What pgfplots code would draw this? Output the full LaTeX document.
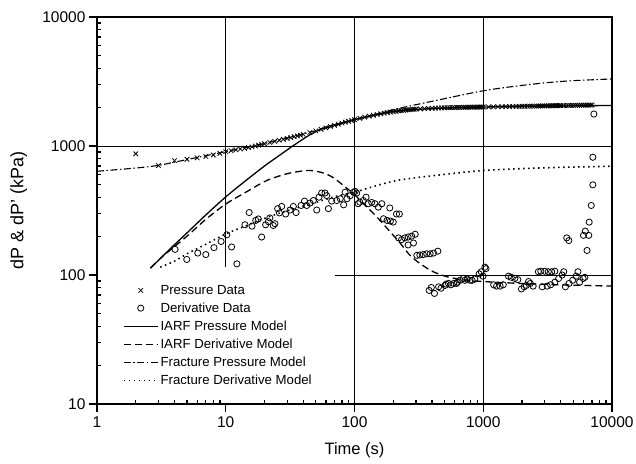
\documentclass[border=0pt]{standalone}
\usepackage{fontspec}
\setmainfont{Liberation Sans}
\usepackage{pgfplots}
\pgfplotsset{compat=1.18}

\begin{document}
\begin{tikzpicture}
\begin{axis}[
  scale only axis, width=515bp, height=387bp,
  xmode=log, ymode=log, xmin=1, xmax=10000, ymin=10, ymax=10000,
  clip=false,
  axis line style={line width=1.2bp},
  xtick={1,10,100,1000,10000}, xticklabels={1,10,100,1000,10000},
  ytick={10,100,1000,10000}, yticklabels={10,100,1000,10000},
  minor xtick={2,3,4,5,6,7,8,9,20,30,40,50,60,70,80,90,200,300,400,500,600,700,800,900,2000,3000,4000,5000,6000,7000,8000,9000},
  minor ytick={20,30,40,50,60,70,80,90,200,300,400,500,600,700,800,900,2000,3000,4000,5000,6000,7000,8000,9000},
  tick pos=left,
  tick align=inside, major tick length=0bp, minor tick length=4.5bp,
  every tick/.style={black, line width=1.3bp},
  xticklabel style={yshift=-9bp, font=\fontsize{15.5bp}{18bp}\selectfont},
  yticklabel style={xshift=-8bp, font=\fontsize{15.5bp}{18bp}\selectfont},
  xlabel={Time (s)}, ylabel={dP \& dP' (kPa)},
  every axis x label/.style={at={(axis description cs:0.5,-0.119)}, anchor=center, font=\fontsize{16.5bp}{19bp}\selectfont},
  every axis y label/.style={at={(axis description cs:-0.152,0.5)}, rotate=90, anchor=center, font=\fontsize{18bp}{21bp}\selectfont},
  legend image code/.code={\draw[mark repeat=2,mark phase=2,#1] plot coordinates {(0bp,0bp) (17bp,0bp) (34bp,0bp)};},
  legend style={at={(rel axis cs:0.05,0.313)}, anchor=north west, draw=none, fill=none,
    inner sep=0pt, row sep=3bp, font=\fontsize{13.2bp}{15bp}\selectfont,
    cells={anchor=west}},
  legend cell align=left,
  unbounded coords=jump,
]
% major ticks, outside the frame (bottom and left)
\addplot[forget plot, black, line width=1.3bp] coordinates {
(1,10) (1,8.673) (nan,nan) (10,10) (10,8.673) (nan,nan) (100,10) (100,8.673) (nan,nan)
(1000,10) (1000,8.673) (nan,nan) (10000,10) (10000,8.673)};
\addplot[forget plot, black, line width=1.3bp] coordinates {
(1,10) (0.8666,10) (nan,nan) (1,100) (0.8666,100) (nan,nan) (1,1000) (0.8666,1000) (nan,nan)
(1,10000) (0.8666,10000)};

% partial grid lines
\addplot[forget plot, black, line width=0.9bp] coordinates {(1,1000) (10000,1000)};
\addplot[forget plot, black, line width=0.9bp] coordinates {(70,100) (10000,100)};
\addplot[forget plot, black, line width=0.9bp] coordinates {(10,115) (10,10000)};
\addplot[forget plot, black, line width=0.9bp] coordinates {(100,10) (100,10000)};
\addplot[forget plot, black, line width=0.9bp] coordinates {(1000,10) (1000,10000)};

% Pressure data
\addplot[only marks, mark=x, mark size=3.2bp, mark options={line width=0.8bp}, black] coordinates {
(2,870) (3,705) (4,770) (5,790) (6,810) (7,830) (8,852) (9,877) (10,905)
(11,920) (12,935) (13,948) (14,960) (15,972) (16,985) (17,1000) (18,1015) (19,1028)
(20,1042) (22,1065) (24,1088) (26,1108) (28,1127) (30,1146) (32,1163) (34,1180)
(36,1197) (38,1213) (40,1230) (45,1272) (50,1310) (55,1348) (60,1382) (65,1415)
(70,1445) (75,1475) (80,1505) (85,1530) (90,1553) (95,1576)
(100,1598) (110,1638) (120,1672) (130,1703) (140,1730) (150,1755) (160,1777)
(170,1797) (180,1815) (190,1832) (200,1848) (210,1860) (220,1872) (230,1882)
(240,1892) (250,1900) (260,1908) (270,1915) (280,1921) (290,1927) (300,1932)
(325,1940) (350,1948) (375,1955) (400,1962) (425,1966) (450,1971) (475,1975)
(500,1978) (525,1981) (550,1983) (575,1986) (600,1988) (625,1990) (650,1992)
(675,1994) (700,1995) (725,1996) (750,1997) (775,1999) (800,2000) (825,2001)
(850,2002) (875,2002) (900,2003) (925,2004) (950,2004) (975,2005)
(1000,2005) (1100,2009) (1200,2012) (1300,2015) (1400,2018) (1500,2020)
(1600,2023) (1700,2025) (1800,2027) (1900,2029) (2000,2031) (2100,2033)
(2200,2035) (2300,2036) (2400,2038) (2500,2039) (2600,2041) (2700,2042)
(2800,2044) (2900,2045) (3000,2046) (3100,2047) (3200,2049) (3300,2050)
(3400,2051) (3500,2052) (3600,2053) (3700,2054) (3800,2055) (3900,2056)
(4000,2057) (4200,2059) (4400,2061) (4600,2062) (4800,2064) (5000,2065)
(5200,2067) (5400,2068) (5600,2070) (5800,2071) (6000,2072) (6200,2073)
(6400,2075) (6600,2076) (6800,2077) (7000,2078)
};
\addlegendentry{Pressure Data}

% Derivative data
\addplot[only marks, mark=o, mark size=3.1bp, mark options={line width=0.8bp}, black] coordinates {
(4.04,158) (4.98,132) (6.06,148) (7.0,144) (8.1,163) (9.2,182) (10.2,205)
(11.1,165) (12.2,122) (14.1,245) (15.2,305) (16,239) (17.1,265) (17.9,272)
(19.0,197) (20.4,245) (21.4,259) (22.0,277) (23.4,242) (24.1,250) (25.3,327)
(26.1,303) (27.2,340) (29.2,297) (31.6,319) (33.5,340) (35.2,305) (38.5,346)
(40.9,374) (42.6,346) (45.1,361) (47.9,378) (50.9,319) (53,401) (55.6,432)
(59,432) (60.8,412) (62.7,327) (66.5,374) (72.8,378) (77.5,390) (82.4,350)
(84.5,438) (87.4,390) (92.6,412) (98.3,438) (101,445) (104,432) (106.7,357)
(110,367) (117,378) (123,401) (128,357) (136,365) (144,357) (153,336) (163,357)
(168,273) (179,265) (190,262) (200,257) (188,331) (212,297) (223,297)
(220,194) (232,188) (246,194) (261,197) (278,200) (296,207) (261,171) (287,177)
(305,142) (322,143) (342,144) (364,146) (387,146) (411,148) (444,153)
(380,76) (395,80) (418,72) (450,81) (470,79) (505,83) (515,85) (537,86)
(560,84) (590,86) (620,86) (630,88) (660,91) (700,94) (720,91) (750,93)
(790,91) (820,91) (860,93) (930,102) (965,106) (995,98) (1030,115) (1050,112)
(1205,84) (1270,82) (1350,82) (1430,84) (1570,98) (1650,96) (1760,94) (1855,92)
(1980,78) (2080,81) (2160,83) (2250,89) (2320,86) (2440,82)
(2680,106) (2800,107) (3000,107) (3200,106) (3400,106) (3600,107)
(2870,81) (3140,82) (3340,84) (3600,88) (3850,94) (4100,100) (4220,106)
(4350,81) (4640,86) (4950,91) (5270,98) (5440,106) (5600,88) (5970,94) (6150,96)
(4450,194) (4620,185) (6000,203) (6200,219) (6600,203) (6400,155) (6650,257)
(6900,346) (7100,500) (7100,818) (7230,1770)
};
\addlegendentry{Derivative Data}

% IARF pressure model
\addplot[black, line width=1.3bp, smooth] coordinates {
(2.6,113) (3,130) (4,172) (5,212) (7,292) (10,403) (14,530) (20,700) (25,820)
(33.5,1007) (45,1220) (60,1400) (80,1510) (100,1600) (150,1750) (200,1850)
(300,1920) (500,1970) (1000,2005) (2000,2030) (5000,2050) (10000,2060)
};
\addlegendentry{IARF Pressure Model}

% IARF derivative model
\addplot[black, line width=1.3bp, dash pattern=on 7bp off 4bp, smooth] coordinates {
(2.6,113) (3.2,138) (5,200) (7,270) (10,355) (15,450) (20.8,540) (30,610)
(42,645) (50,638) (60,608) (70,560) (85,480) (100,420) (120,350) (150,280)
(185,222) (228,175) (278,138) (387,109) (523,97) (700,92) (1000,89)
(2600,85) (10000,82)
};
\addlegendentry{IARF Derivative Model}

% Fracture pressure model
\addplot[black, line width=1.1bp, dash pattern=on 7bp off 2.5bp on 1.5bp off 2.5bp, smooth] coordinates {
(1,637) (2,675) (3,708) (5,785) (10,905) (20,1045) (40,1240) (80,1490)
(100,1600) (150,1770) (210,1935) (400,2220) (1000,2680) (2000,2950)
(3270,3110) (5000,3210) (10000,3310)
};
\addlegendentry{Fracture Pressure Model}

% Fracture derivative model
\addplot[black, line width=1.6bp, dash pattern=on 1.5bp off 3.5bp, smooth] coordinates {
(3.1,115) (4,128) (5,146) (7,173) (10,208) (15,245) (20,275) (30,315)
(50,365) (70,405) (100,438) (150,495) (212,540) (300,568) (387,585)
(600,615) (1000,646) (2000,668) (4000,683) (10000,697)
};
\addlegendentry{Fracture Derivative Model}

\coordinate (sw) at (rel axis cs:0,0);
\coordinate (ne) at (rel axis cs:1,1);
\end{axis}
\pgfresetboundingbox
\path[use as bounding box] ([shift={(-97bp,-59bp)}]sw) rectangle ([shift={(24bp,17bp)}]ne);
\end{tikzpicture}
\end{document}
